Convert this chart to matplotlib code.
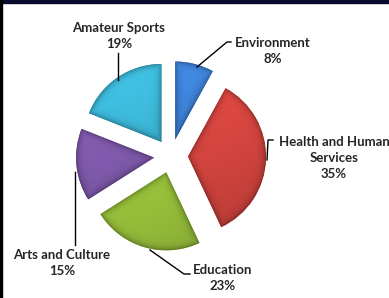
import matplotlib
matplotlib.use("Agg")
import matplotlib.pyplot as plt
import numpy as np
from matplotlib.patches import Rectangle

W, H = 389, 298

categories = ["Environment", "Health and Human\nServices", "Education",
              "Arts and Culture", "Amateur Sports"]
shares = [8, 35, 23, 15, 19]
colors = ["#3d80d4", "#d6453f", "#9cc63c", "#7e58a9", "#3bb2d2"]

# label placement (image pixel coords, y from top) and leader lines
label_pos = [(273, 51), (334, 158), (223, 278), (62, 263), (119, 36)]
leaders = [
    [(231, 42), (227, 42), (197, 67)],
    [(273, 140), (268, 140), (267, 160)],
    [(190, 274), (184, 274), (150, 250)],
    [(75, 245), (75, 172)],
    [(118, 53), (118, 80)],
]


def flip(pts):
    return [(x, H - y) for x, y in pts]


fig = plt.figure(figsize=(W / 100, H / 100), dpi=100)
ax = fig.add_axes([0, 0, 1, 1])

wedges, _ = ax.pie(shares, colors=colors, startangle=90, counterclock=False,
                   center=(171, H - 156), radius=78, explode=[17] * 5,
                   frame=True)
ax.set_xlim(0, W)
ax.set_ylim(0, H)
ax.set_aspect("auto")
ax.axis("off")

# bevel-like shading inside each wedge
gx, gy = np.meshgrid(np.linspace(0, W, 2 * W), np.linspace(0, H, 2 * H))
for w, c in zip(wedges, colors):
    w.set_edgecolor("none")
    cx, cy = w.center
    r = w.r
    dx, dy = gx - cx, gy - cy
    dist = np.hypot(dx, dy)
    d_arc = r - dist
    edges = []
    for t in (w.theta1, w.theta2):
        tr = np.deg2rad(t)
        edges.append(np.abs(-np.sin(tr) * dx + np.cos(tr) * dy))
    d = np.minimum(d_arc, np.minimum(*edges))
    d = np.clip(d, 0, None)
    base = np.array(matplotlib.colors.to_rgb(c))
    shade = 1 - 0.32 * np.exp(-d / 3.0)
    tilt = 1 + 0.10 * (dy / r) - 0.04 * (dx / r)
    img = np.clip(base[None, None, :] * (shade * tilt)[..., None], 0, 1)
    im = ax.imshow(img, extent=(0, W, 0, H), origin="lower",
                   interpolation="bilinear", zorder=2)
    im.set_clip_path(w)

for name, s, (tx, ty), pts in zip(categories, shares, label_pos, leaders):
    ax.text(tx, H - ty, f"{name}\n{s}%", ha="center", va="center",
            fontsize=9.5, fontweight="bold", family="Lato", color="#262626",
            linespacing=1.4, zorder=5)
    xs, ys = zip(*flip(pts))
    ax.plot(xs, ys, color="black", lw=1, zorder=6)

# dark frame edges of the original screenshot
fig.patches.append(Rectangle((0, 1 - 3 / H), 1, 3 / H, transform=fig.transFigure,
                             color="#0a0a30", zorder=10))
fig.patches.append(Rectangle((0, 0), 1.5 / W, 1, transform=fig.transFigure,
                             color="black", zorder=10))

fig.savefig("out.png", dpi=100)
